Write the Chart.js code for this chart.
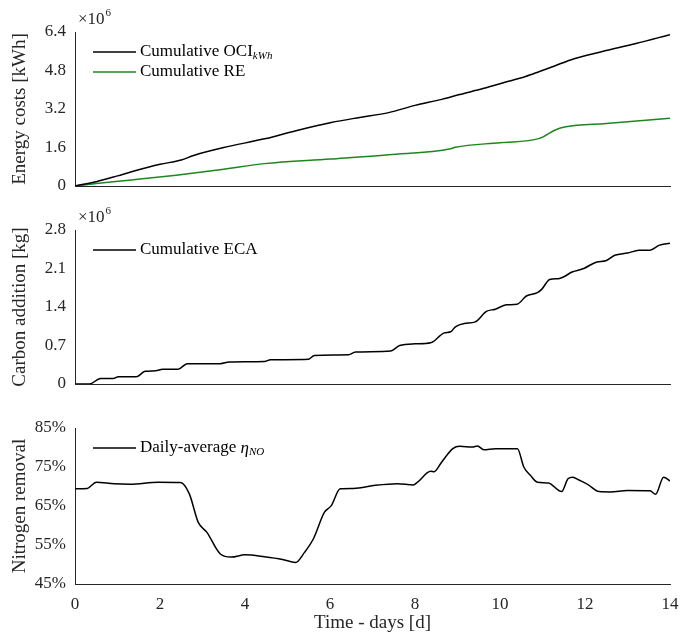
<!DOCTYPE html>
<html>
<head>
<meta charset="utf-8">
<script src="https://cdn.jsdelivr.net/npm/chart.js@4"></script>
<style>
  body { margin: 0; background: #fff; }
  .wrap { position: absolute; left: 0; width: 694px; }
</style>
</head>
<body>
<div class="wrap" style="top:0;height:200px"><canvas id="chartEnergy"></canvas></div>
<div class="wrap" style="top:200px;height:198px"><canvas id="chartCarbon"></canvas></div>
<div class="wrap" style="top:398px;height:237px"><canvas id="chartNitrogen"></canvas></div>
<script>
// --- data ---
// energy costs, in 1e6 kWh
const ociDays = [0, 0.5, 1, 1.33, 2, 2.5, 2.79, 3.5, 4.46, 5.2, 6.03, 6.7, 7.38, 8, 8.63, 9.05, 9.6, 10.2, 10.6, 10.93, 11.3, 11.66, 12.39, 13.2, 14];
const ociValues = [0, 0.18, 0.42, 0.59, 0.9, 1.08, 1.27, 1.6, 1.96, 2.3, 2.64, 2.85, 3.05, 3.35, 3.6, 3.8, 4.05, 4.35, 4.55, 4.76, 5.0, 5.24, 5.58, 5.92, 6.29];
const reDays = [0, 0.5, 1.33, 2.38, 3.5, 4.46, 6, 7.38, 8.84, 8.95, 10, 10.93, 11.3, 11.55, 12.5, 14];
const reValues = [0, 0.1, 0.25, 0.45, 0.7, 0.93, 1.12, 1.30, 1.55, 1.61, 1.8, 1.98, 2.33, 2.46, 2.6, 2.82];
// carbon addition, in 1e6 kg
const ecaDays = [0, 0.34, 0.6, 0.9, 1.02, 1.44, 1.65, 1.9, 2.06, 2.43, 2.64, 3.42, 3.63, 4.46, 4.6, 5.5, 5.63, 6.44, 6.6, 7.43, 7.64, 8.0, 8.37, 8.69, 8.84, 8.95, 9.16, 9.42, 9.68, 9.89, 10.15, 10.4, 10.62, 10.88, 10.98, 11.17, 11.4, 11.71, 11.97, 12.28, 12.49, 12.7, 13.0, 13.27, 13.53, 13.74, 14];
const ecaValues = [0, 0, 0.10, 0.10, 0.13, 0.13, 0.23, 0.24, 0.27, 0.27, 0.37, 0.37, 0.40, 0.41, 0.44, 0.45, 0.52, 0.53, 0.58, 0.60, 0.70, 0.73, 0.75, 0.93, 0.95, 1.04, 1.10, 1.13, 1.32, 1.36, 1.44, 1.45, 1.60, 1.66, 1.72, 1.90, 1.92, 2.04, 2.10, 2.22, 2.24, 2.34, 2.38, 2.43, 2.43, 2.52, 2.56];
// daily-average nitrogen removal, %
const etaDays = [0, 0.29, 0.5, 0.92, 1.3, 1.96, 2.48, 2.69, 2.9, 3.1, 3.42, 3.68, 4.0, 4.46, 4.88, 5.19, 5.4, 5.61, 5.87, 6.03, 6.24, 6.55, 7.07, 7.59, 7.96, 8.06, 8.37, 8.45, 8.63, 8.89, 9.05, 9.35, 9.47, 9.62, 9.89, 10.41, 10.56, 10.72, 10.88, 11.14, 11.45, 11.6, 11.71, 11.87, 12.07, 12.33, 12.6, 13.0, 13.53, 13.66, 13.85, 14];
const etaValues = [69.4, 69.5, 71.1, 70.7, 70.6, 71.1, 71.0, 68.1, 60.8, 58.3, 52.7, 51.9, 52.5, 52.0, 51.3, 50.5, 53.1, 56.6, 63.4, 65.1, 69.4, 69.5, 70.3, 70.7, 70.4, 71.1, 73.9, 73.8, 76.3, 79.7, 80.3, 80.1, 80.4, 79.4, 79.7, 79.7, 75.0, 72.8, 71.1, 70.9, 68.7, 72.0, 72.4, 71.6, 70.5, 68.7, 68.6, 69.0, 68.9, 68.0, 72.4, 71.4];

const energyTicks = [0, 1.6, 3.2, 4.8, 6.4];
const carbonTicks = [0, 0.7, 1.4, 2.1, 2.8];
const nitrogenTicks = [45, 55, 65, 75, 85];
const dayTicks = [0, 2, 4, 6, 8, 10, 12, 14];

const FONT = "'Liberation Serif', 'DejaVu Serif', serif";
const AXIS_COLOR = '#262626';

function pts(xs, ys) {
    return xs.map(function(x, i) { return { x: x, y: ys[i] }; });
}

// legend drawn inside plot area, matlab style; label parts = [text, style]
const insideLegend = {
    id: 'insideLegend',
    afterDraw: function(chart) {
        const ctx = chart.ctx;
        const area = chart.chartArea;
        const items = chart.options.plugins.insideLegend.items;
        ctx.save();
        items.forEach(function(item, i) {
            const y = area.top + 20 + i * 20;
            ctx.strokeStyle = item.color;
            ctx.lineWidth = 1.5;
            ctx.beginPath();
            ctx.moveTo(area.left + 18, y);
            ctx.lineTo(area.left + 61, y);
            ctx.stroke();
            let x = area.left + 65;
            ctx.fillStyle = '#000';
            ctx.textBaseline = 'middle';
            item.parts.forEach(function(p) {
                if (p[1] === 'sub') {
                    ctx.font = 'italic 11px ' + FONT;
                    ctx.fillText(p[0], x, y + 4);
                } else if (p[1] === 'it') {
                    ctx.font = 'italic 17px ' + FONT;
                    ctx.fillText(p[0], x, y + 1);
                } else {
                    ctx.font = '17px ' + FONT;
                    ctx.fillText(p[0], x, y);
                }
                x += ctx.measureText(p[0]).width;
            });
        });
        // exponent label above the y axis
        if (chart.options.plugins.insideLegend.exponent) {
            ctx.font = '17px ' + FONT;
            ctx.textBaseline = 'alphabetic';
            ctx.fillStyle = '#262626';
            ctx.fillText('\u00d710', area.left + 3, area.top - 8);
            const w = ctx.measureText('\u00d710').width;
            ctx.font = '11px ' + FONT;
            ctx.fillText('6', area.left + 4 + w, area.top - 16);
        }
        ctx.restore();
    }
};

function makeChart(id, datasets, yTicks, yTitle, legendItems, opts) {
    return new Chart(document.getElementById(id), {
        type: 'line',
        data: { datasets: datasets },
        plugins: [insideLegend],
        options: {
            responsive: true,
            maintainAspectRatio: false,
            animation: false,
            layout: { padding: { top: opts.top, right: 24, left: 0, bottom: 0 } },
            elements: { point: { radius: 0 }, line: { borderWidth: 1.5, cubicInterpolationMode: 'monotone' } },
            plugins: {
                legend: { display: false },
                tooltip: { enabled: false },
                insideLegend: { items: legendItems, exponent: opts.exponent }
            },
            scales: {
                x: {
                    type: 'linear',
                    min: 0,
                    max: 14,
                    afterBuildTicks: function(s) { s.ticks = dayTicks.map(function(v) { return { value: v }; }); },
                    afterFit: function(s) { s.height = opts.xHeight; },
                    grid: { display: false },
                    border: { color: AXIS_COLOR, width: 1 },
                    ticks: {
                        display: opts.showX,
                        color: '#262626',
                        font: { family: FONT, size: 17 },
                        maxRotation: 0,
                        padding: 2
                    },
                    title: {
                        display: opts.showX,
                        text: 'Time - days [d]',
                        color: '#262626',
                        font: { family: FONT, size: 19 },
                        padding: { top: 0, bottom: 1 }
                    }
                },
                y: {
                    min: yTicks[0],
                    max: yTicks[yTicks.length - 1],
                    afterBuildTicks: function(s) { s.ticks = yTicks.map(function(v) { return { value: v }; }); },
                    afterFit: function(s) { s.width = 75; },
                    grid: { display: false },
                    border: { color: AXIS_COLOR, width: 1 },
                    ticks: {
                        color: '#262626',
                        font: { family: FONT, size: 17 },
                        padding: 1,
                        callback: opts.tickFmt
                    },
                    title: {
                        display: true,
                        text: yTitle,
                        color: '#262626',
                        font: { family: FONT, size: 19 },
                        padding: { top: 9, bottom: 0 }
                    }
                }
            }
        }
    });
}

makeChart('chartEnergy', [
    { data: pts(ociDays, ociValues), borderColor: '#000000' },
    { data: pts(reDays, reValues), borderColor: '#1e861e' }
], energyTicks, 'Energy costs [kWh]', [
    { color: '#000000', parts: [['Cumulative OCI', ''], ['kWh', 'sub']] },
    { color: '#1e861e', parts: [['Cumulative RE', '']] }
], { top: 32, xHeight: 14, showX: false, exponent: true, tickFmt: function(v) { return String(v); } });

makeChart('chartCarbon', [
    { data: pts(ecaDays, ecaValues), borderColor: '#000000' }
], carbonTicks, 'Carbon addition [kg]', [
    { color: '#000000', parts: [['Cumulative ECA', '']] }
], { top: 30, xHeight: 14, showX: false, exponent: true, tickFmt: function(v) { return String(v); } });

makeChart('chartNitrogen', [
    { data: pts(etaDays, etaValues), borderColor: '#000000' }
], nitrogenTicks, 'Nitrogen removal', [
    { color: '#000000', parts: [['Daily-average ', ''], ['\u03b7', 'it'], ['NO', 'sub']] }
], { top: 30, xHeight: 51, showX: true, exponent: false, tickFmt: function(v) { return v + '%'; } });
</script>
</body>
</html>
